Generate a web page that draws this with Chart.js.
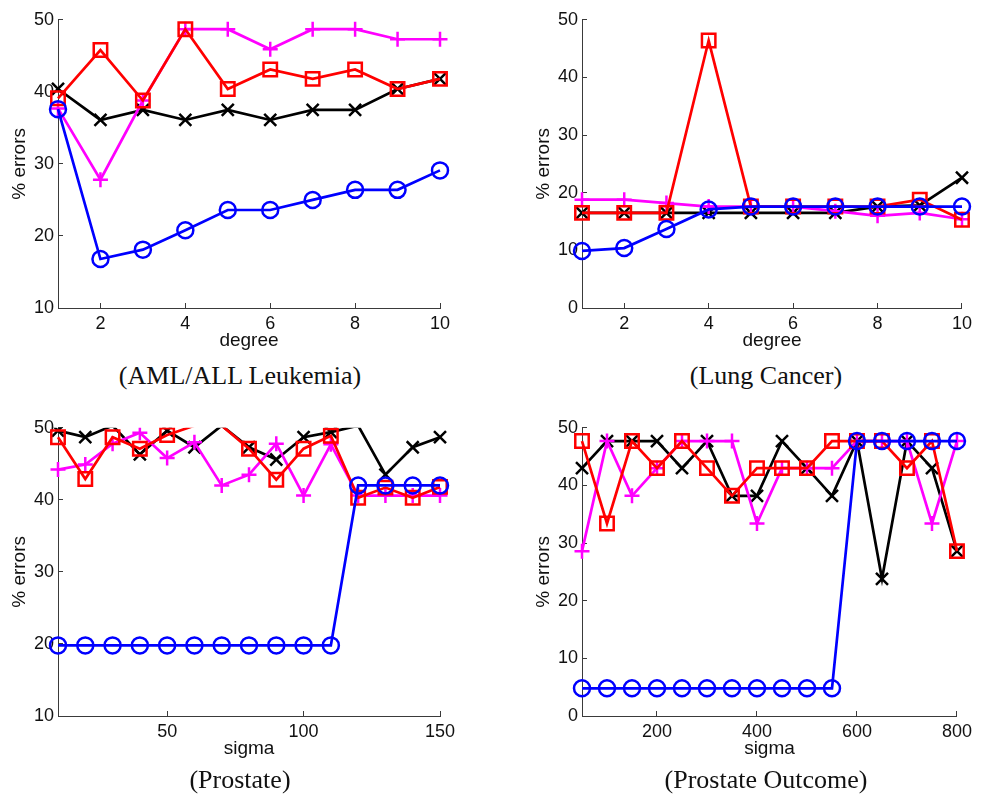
<!DOCTYPE html>
<html>
<head>
<meta charset="utf-8">
<title>% errors vs degree and sigma</title>
<script src="https://cdn.jsdelivr.net/npm/chart.js@4.4.1/dist/chart.umd.min.js"></script>
<style>
  html, body { margin: 0; padding: 0; background: #fff; }
  #page { position: relative; width: 982px; height: 799px; overflow: hidden; }
  canvas { position: absolute; }
  .caption {
    position: absolute; width: 400px; text-align: center;
    font-family: "Liberation Serif", "Times New Roman", serif;
    font-size: 26px; line-height: 30px; color: #111;
  }
</style>
</head>
<body>
<div id="page">
  <canvas id="aml" width="491" height="360" style="left:0px;top:0px"></canvas>
  <canvas id="lung" width="458" height="360" style="left:524px;top:0px"></canvas>
  <canvas id="prostate" width="491" height="360" style="left:0px;top:408px"></canvas>
  <canvas id="outcome" width="458" height="360" style="left:524px;top:408px"></canvas>
  <div class="caption" style="left:40px;top:361px">(AML/ALL Leukemia)</div>
  <div class="caption" style="left:566px;top:361px">(Lung Cancer)</div>
  <div class="caption" style="left:40px;top:765px">(Prostate)</div>
  <div class="caption" style="left:566px;top:765px">(Prostate Outcome)</div>
</div>
<script>
// x values
const degrees = [1, 2, 3, 4, 5, 6, 7, 8, 9, 10];
const sigmaProstate = [10, 20, 30, 40, 50, 60, 70, 80, 90, 100, 110, 120, 130, 140, 150];
const sigmaOutcome = [50, 100, 150, 200, 250, 300, 350, 400, 450, 500, 550, 600, 650, 700, 750, 800];

// tick labels
const degreeTicks = [2, 4, 6, 8, 10];
const prostateTicks = [50, 100, 150];
const outcomeTicks = [200, 400, 600, 800];
const errTicks10 = [10, 20, 30, 40, 50];
const errTicks0 = [0, 10, 20, 30, 40, 50];

// AML/ALL Leukemia (% errors)
const amlBlack = [40.4, 36.1, 37.5, 36.1, 37.5, 36.1, 37.5, 37.5, 40.4, 41.8];
const amlMagenta = [37.7, 27.8, 38.8, 48.7, 48.7, 45.9, 48.7, 48.7, 47.3, 47.3];
const amlRed = [39.1, 45.8, 38.8, 48.7, 40.4, 43.1, 41.8, 43.1, 40.4, 41.8];
const amlBlue = [37.6, 16.8, 18.1, 20.8, 23.6, 23.6, 25.0, 26.4, 26.4, 29.1];

// Lung Cancer
const lungBlack = [16.5, 16.5, 16.5, 16.5, 16.5, 16.5, 16.5, 17.6, 17.8, 22.6];
const lungMagenta = [18.8, 18.8, 18.2, 17.6, 17.6, 17.6, 16.8, 16.0, 16.5, 15.4];
const lungRed = [16.5, 16.5, 16.5, 46.4, 17.6, 17.6, 17.6, 17.6, 18.8, 15.3];
const lungBlue = [9.9, 10.4, 13.7, 17.1, 17.6, 17.6, 17.6, 17.6, 17.6, 17.6];

// Prostate (some values run just past the top of the axes)
const proBlack = [49.6, 48.7, 50.3, 46.3, 49.6, 47.3, 50.3, 47.3, 45.6, 48.7, 49.4, 50.3, 43.5, 47.3, 48.7];
const proMagenta = [44.2, 44.9, 47.8, 49.3, 45.8, 48.0, 42.0, 43.5, 47.8, 40.6, 47.7, 40.6, 40.6, 40.6, 40.6];
const proRed = [48.7, 42.9, 48.7, 47.1, 49.0, 50.3, 50.3, 47.1, 42.8, 47.1, 48.9, 40.3, 41.7, 40.3, 41.8];
const proBlue = [19.8, 19.8, 19.8, 19.8, 19.8, 19.8, 19.8, 19.8, 19.8, 19.8, 19.8, 42.0, 42.0, 42.0, 42.0];

// Prostate Outcome
const outBlack = [43.0, 47.7, 47.7, 47.7, 43.0, 47.7, 38.2, 38.2, 47.7, 43.0, 38.2, 47.7, 23.8, 47.7, 43.0, 28.6];
const outMagenta = [28.6, 47.7, 38.2, 43.0, 47.7, 47.7, 47.7, 33.4, 43.0, 43.0, 43.0, 47.7, 47.7, 47.7, 33.4, 47.7];
const outRed = [47.7, 33.4, 47.7, 43.0, 47.7, 43.0, 38.2, 43.0, 43.0, 43.0, 47.7, 47.7, 47.7, 43.0, 47.7, 28.6];
const outBlue = [4.8, 4.8, 4.8, 4.8, 4.8, 4.8, 4.8, 4.8, 4.8, 4.8, 4.8, 47.7, 47.7, 47.7, 47.7, 47.7];

// marker styles, first one is drawn on top
const styles = [
  { color: '#0000ff', point: 'circle', r: 8 },
  { color: '#ff0000', point: 'rect', r: 9.5 },
  { color: '#ff00ff', point: 'cross', r: 7.5 },
  { color: '#000000', point: 'crossRot', r: 8.5 }
];

const axisColor = '#3a3a3a';
const textColor = '#111';
const tickFont = { family: 'Liberation Sans, Arial, sans-serif', size: 18 };
const titleFont = { family: 'Liberation Sans, Arial, sans-serif', size: 19 };

function makePanel(id, xs, series, xLabel, xMin, xMax, xTicks, yMin, yMax, yTicks, rightPad) {
  const datasets = series.map((vals, k) => {
    const st = styles[k];
    return {
      data: xs.map((x, i) => ({ x: x, y: vals[i] })),
      borderColor: st.color,
      borderWidth: 2.7,
      pointStyle: st.point,
      pointRadius: ctx => (ctx.raw && ctx.raw.y > yMax ? 0 : st.r),
      pointBorderColor: st.color,
      pointBackgroundColor: 'rgba(0,0,0,0)',
      pointBorderWidth: 2.5,
      tension: 0,
      fill: false,
      clip: { left: 14, top: 0, right: 14, bottom: 14 }
    };
  });

  new Chart(document.getElementById(id), {
    type: 'line',
    data: { datasets: datasets },
    options: {
      responsive: false,
      animation: false,
      events: [],
      layout: { autoPadding: false, padding: { left: 0, top: 12, right: rightPad, bottom: 0 } },
      plugins: { legend: { display: false }, tooltip: { enabled: false } },
      scales: {
        x: {
          type: 'linear',
          min: xMin,
          max: xMax,
          afterBuildTicks: scale => { scale.ticks = xTicks.map(v => ({ value: v })); },
          afterFit: scale => { scale.height = 52; },
          border: { display: true, color: axisColor, width: 1 },
          grid: { display: true, drawOnChartArea: false, drawTicks: true, tickLength: -5, color: axisColor },
          ticks: { autoSkip: false, maxRotation: 0, padding: 10, color: textColor, font: tickFont },
          title: { display: true, text: xLabel, color: textColor, font: titleFont, padding: { top: 0, bottom: 8 } }
        },
        y: {
          type: 'linear',
          min: yMin,
          max: yMax,
          afterBuildTicks: scale => { scale.ticks = yTicks.map(v => ({ value: v })); },
          afterFit: scale => { scale.width = 58; },
          border: { display: true, color: axisColor, width: 1 },
          grid: { display: true, drawOnChartArea: false, drawTicks: true, tickLength: -5, color: axisColor },
          ticks: { padding: 9, color: textColor, font: tickFont },
          title: { display: true, text: '% errors', color: textColor, font: titleFont, padding: { top: 8, bottom: 0 } }
        }
      }
    }
  });
}

makePanel('aml', degrees, [amlBlue, amlRed, amlMagenta, amlBlack], 'degree', 1, 10, degreeTicks, 10, 50, errTicks10, 51);
makePanel('lung', degrees, [lungBlue, lungRed, lungMagenta, lungBlack], 'degree', 1, 10, degreeTicks, 0, 50, errTicks0, 19);
makePanel('prostate', sigmaProstate, [proBlue, proRed, proMagenta, proBlack], 'sigma', 10, 150, prostateTicks, 10, 50, errTicks10, 51);
makePanel('outcome', sigmaOutcome, [outBlue, outRed, outMagenta, outBlack], 'sigma', 50, 800, outcomeTicks, 0, 50, errTicks0, 19);
</script>
</body>
</html>
